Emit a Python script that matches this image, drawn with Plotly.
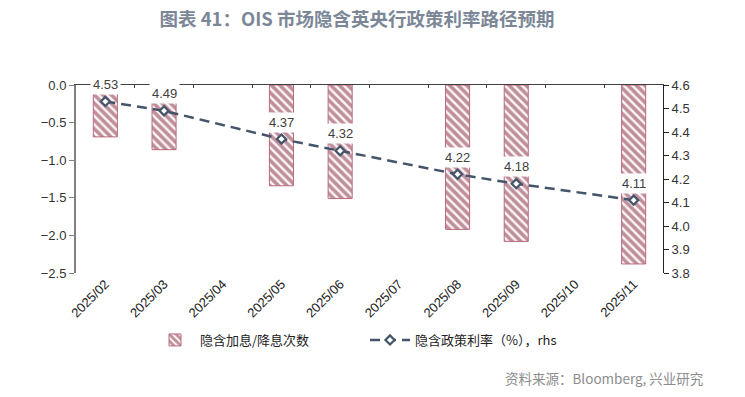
import plotly.graph_objects as go

months = ["2025/02", "2025/03", "2025/04", "2025/05", "2025/06",
          "2025/07", "2025/08", "2025/09", "2025/10", "2025/11"]
hikes_cuts = [-0.69, -0.86, None, -1.34, -1.51, None, -1.92, -2.08, None, -2.38]
policy_rate = [4.53, 4.49, None, 4.37, 4.32, None, 4.22, 4.18, None, 4.11]

bar_name = "隐含加息/降息次数"
line_name = "隐含政策利率（%），rhs"
title_text = "图表 41：OIS 市场隐含英央行政策利率路径预期"
source_text = "资料来源：Bloomberg, 兴业研究"

stripe = "#7e2a3f"
line_col = "#44546a"
cjk = "Noto Sans CJK SC"
num_font = "Liberation Sans, Arial, sans-serif"

fig = go.Figure()
fig.add_trace(go.Bar(
    x=months, y=hikes_cuts, name=bar_name, width=0.41,
    marker=dict(color="white",
                line=dict(color="#b86a7c", width=1),
                pattern=dict(shape="\\", fgcolor=stripe, bgcolor="#fff6f8",
                             size=6, solidity=0.6)),
    xaxis="x", yaxis="y",
))
fig.add_trace(go.Scatter(
    x=months, y=policy_rate, name=line_name, mode="lines+markers",
    connectgaps=True,
    line=dict(color=line_col, width=2.5, dash="10px,6px"),
    marker=dict(symbol="diamond", size=7, color="white",
                line=dict(color=line_col, width=2.2)),
    xaxis="x2", yaxis="y2",
))

L, R, T, B = 76, 82, 85, 124
W, H = 745, 397
pw, ph = W - L - R, H - T - B

annotations = []
for m, v in zip(months, policy_rate):
    if v is None:
        continue
    annotations.append(dict(
        x=m, y=v, xref="x2", yref="y2", text=f"{v:.2f}", showarrow=False,
        yshift=17, bgcolor="white", borderpad=2,
        font=dict(family=num_font, size=13, color="#404040"),
    ))
annotations.append(dict(
    x=(705 - L) / pw, y=(H - B - 378) / ph, xref="paper", yref="paper",
    text=source_text, showarrow=False, xanchor="right", yanchor="middle",
    font=dict(family=cjk, size=13.5, color="#8c8c8c"),
))

fig.update_layout(
    width=W, height=H,
    margin=dict(l=L, r=R, t=T, b=B),
    paper_bgcolor="white", plot_bgcolor="white",
    title=dict(text=f"<b>{title_text}</b>", x=357 / W, xanchor="center",
               y=1 - 20 / H, yanchor="middle",
               font=dict(family=cjk, size=18.5, color="#7b8797")),
    showlegend=True,
    legend=dict(orientation="h", x=(150 - L) / pw, xanchor="left",
                y=-(340 - (H - B)) / ph, yanchor="middle",
                font=dict(family=cjk, size=13, color="#222222"),
                entrywidth=160, entrywidthmode="pixels",
                itemwidth=40, bgcolor="rgba(0,0,0,0)"),
    xaxis=dict(type="category", categoryorder="array", categoryarray=months,
               tickangle=-45, showline=False, ticks="", showgrid=False,
               tickfont=dict(family=num_font, size=13, color="#222222"),
               range=[-0.5, 9.5]),
    xaxis2=dict(type="category", categoryorder="array", categoryarray=months,
                overlaying="x", side="top", matches="x", anchor="y",
                showline=True, linecolor="#404040", linewidth=1,
                ticks="inside", ticklen=3, tickcolor="#404040",
                tickson="boundaries", showticklabels=False, showgrid=False),
    yaxis=dict(range=[-2.5, 0], dtick=0.5, tickformat=".1f",
               showline=True, linecolor="#808080", linewidth=2,
               ticks="outside", ticklen=5, tickcolor="#808080",
               showgrid=False, zeroline=False,
               tickfont=dict(family=num_font, size=13, color="#333333")),
    yaxis2=dict(range=[3.8, 4.6], dtick=0.1, tickformat=".1f",
                overlaying="y", side="right", anchor="x2",
                showline=True, linecolor="#222222", linewidth=1,
                ticks="outside", ticklen=5, tickcolor="#222222",
                showgrid=False, zeroline=False,
                tickfont=dict(family=num_font, size=13, color="#333333")),
    annotations=annotations,
)

fig.write_html("out.html", config={"displayModeBar": False},
               post_script="document.body.style.margin='0px';")
